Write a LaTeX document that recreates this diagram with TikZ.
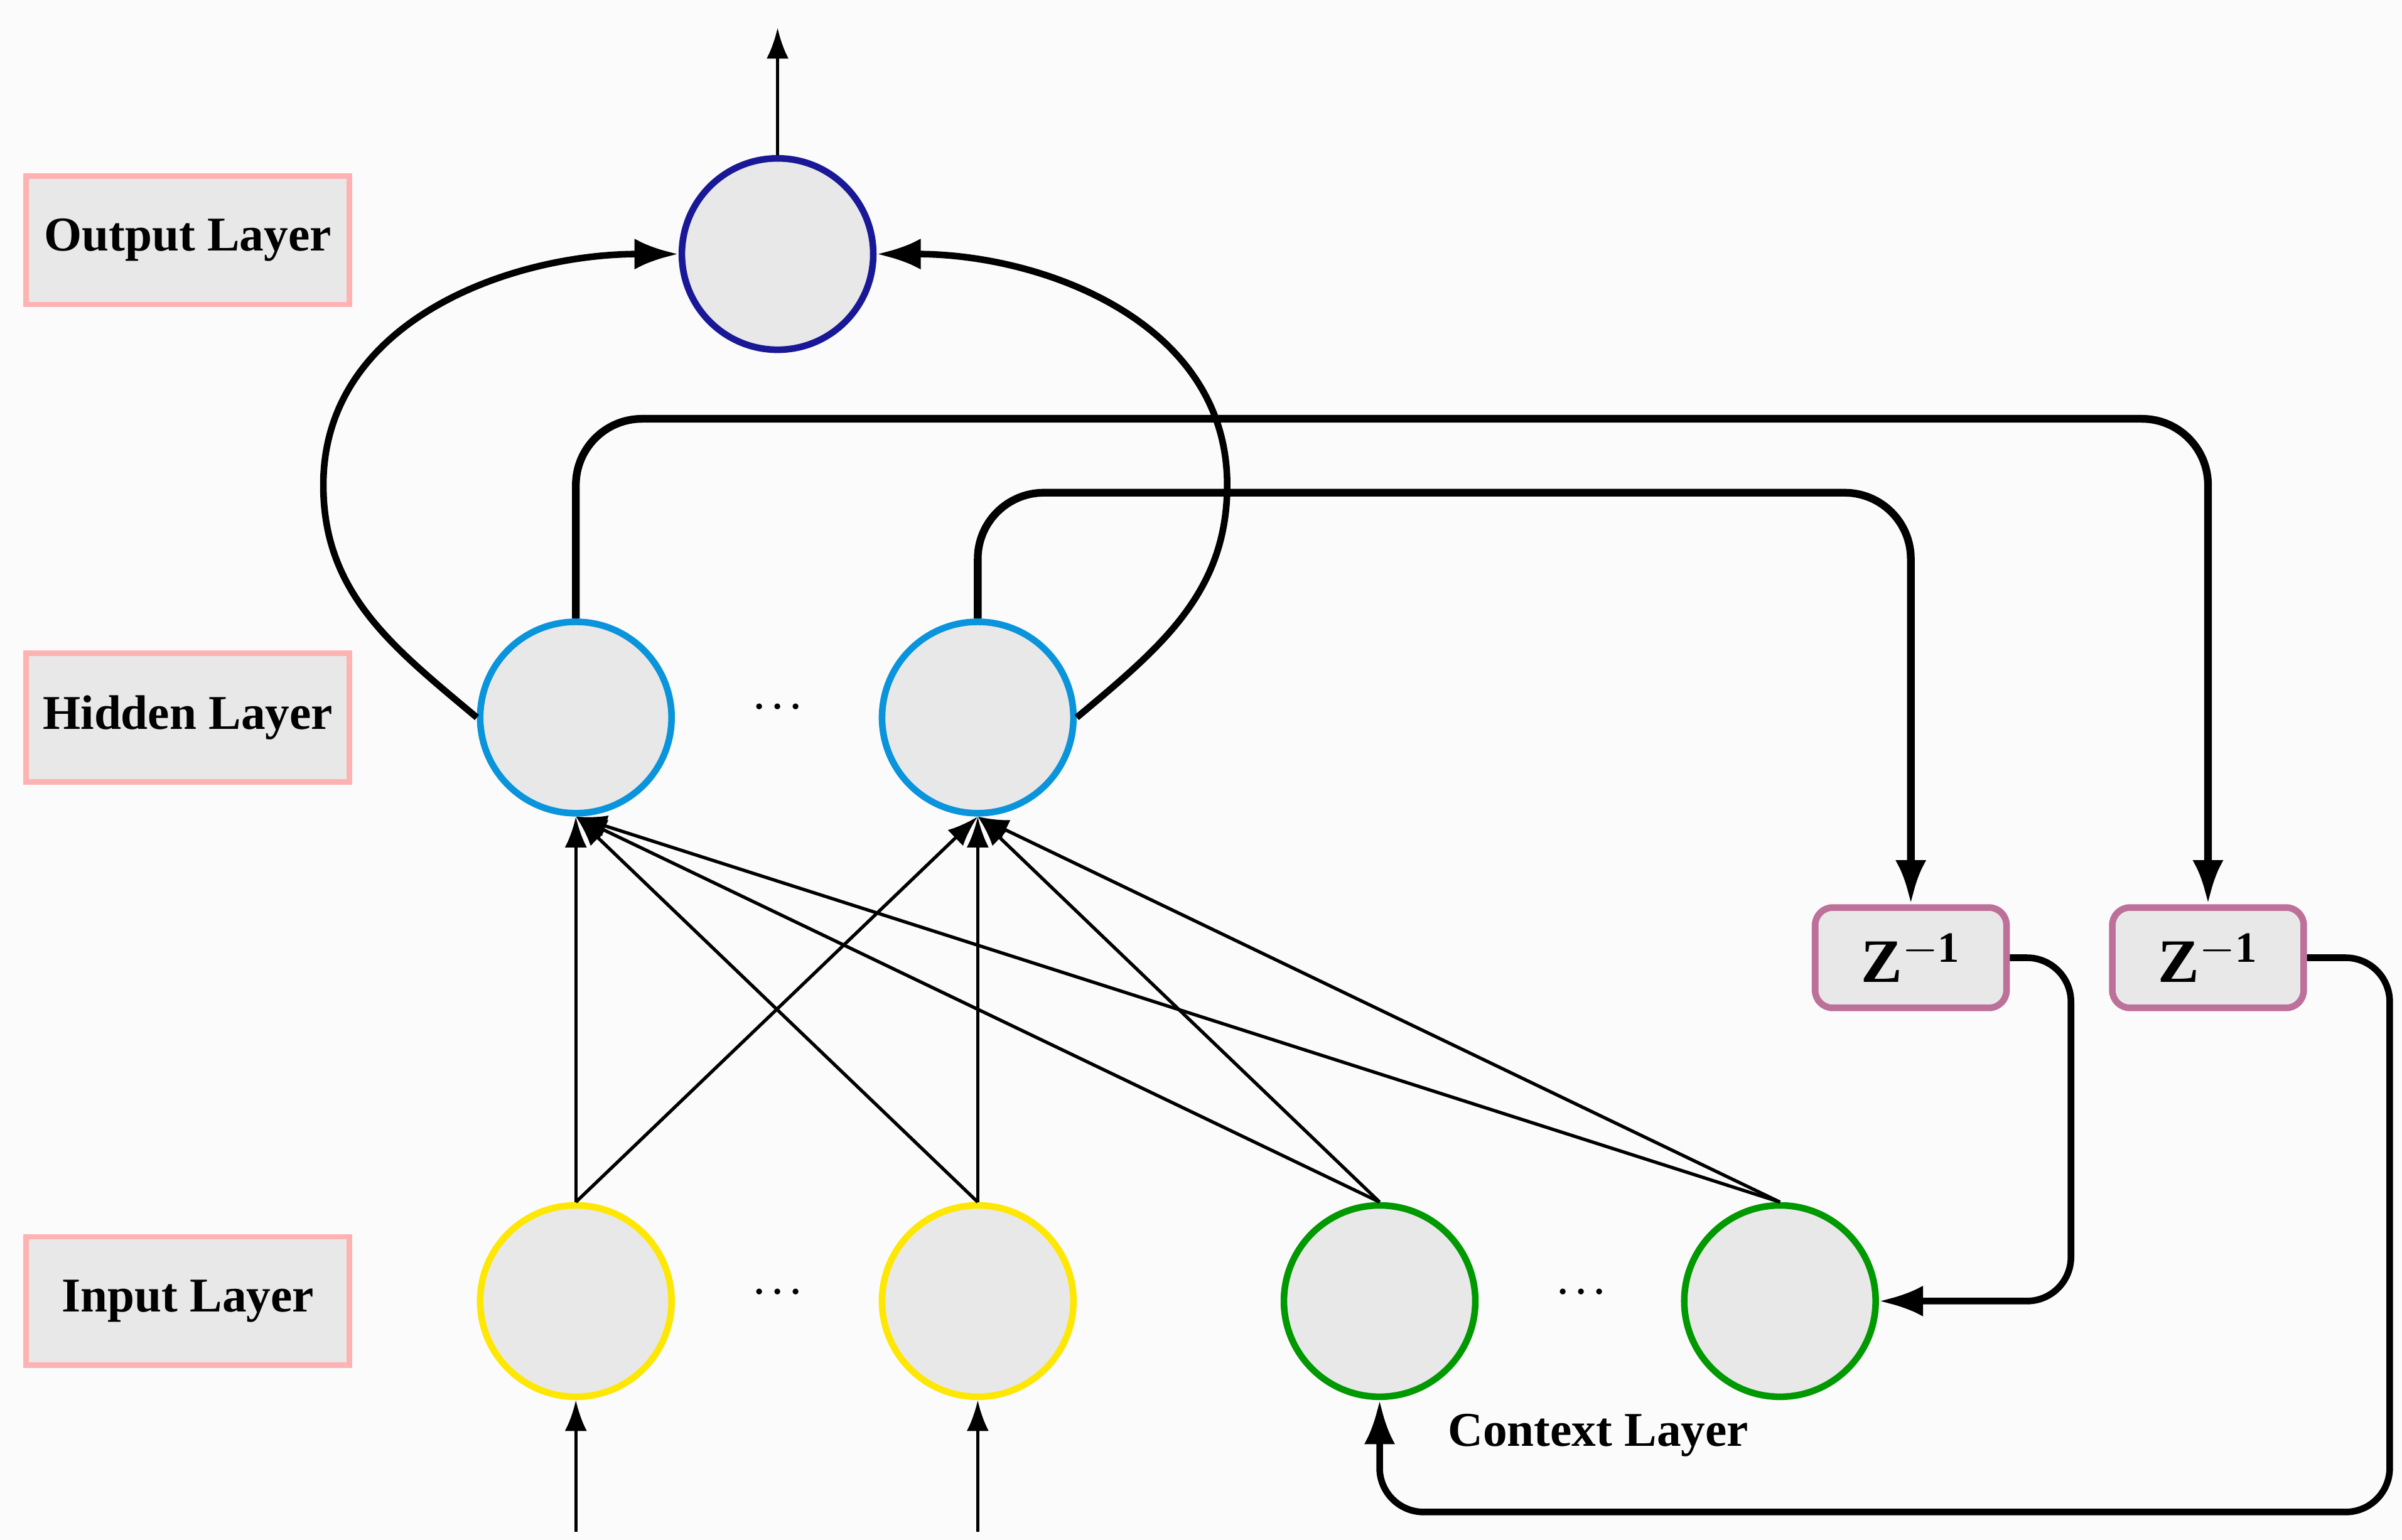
\documentclass[tikz,border=0pt]{standalone}
\usepackage{fontspec}
\setmainfont{Liberation Serif}
\usetikzlibrary{arrows.meta}
\begin{document}
\begin{tikzpicture}[x=0.02453cm,y=-0.02453cm,
  neuron/.style={circle,draw,line width=3pt,fill=gray!18,minimum size=3.05cm,inner sep=0},
  lab/.style={draw=red!30,line width=2.5pt,fill=gray!18,minimum width=5.15cm,minimum height=2.05cm,font=\fontsize{22}{26}\selectfont\bfseries},
  zb/.style={draw=magenta!60!black!70,line width=3pt,fill=gray!18,rounded corners=8pt,minimum width=3.05cm,minimum height=1.6cm,font=\fontsize{28}{32}\selectfont\bfseries},
  thin/.style={-{Latex[length=14pt,width=10pt]},line width=1.5pt},
  thick/.style={-{Latex[length=20pt,width=14pt]},line width=3.5pt,rounded corners=30pt},
  med/.style={-{Latex[length=20pt,width=14pt]},line width=3pt},
  dots/.style={font=\fontsize{40}{40}\selectfont\bfseries}]
\fill[gray!3] (0,0) rectangle (1560,1000);
\useasboundingbox (0,0) rectangle (1560,1000);
\node[lab] (lo) at (122,156) {Output Layer};
\node[lab] (lh) at (122,466) {Hidden Layer};
\node[lab] (li) at (122,845) {Input Layer};
\node[neuron,draw=blue!55!black!90] (o) at (505,165) {};
\node[neuron,draw=cyan!80!blue] (h1) at (374,466) {};
\node[neuron,draw=cyan!80!blue] (h2) at (635,466) {};
\node[neuron,draw=yellow!90!orange] (i1) at (374,845) {};
\node[neuron,draw=yellow!90!orange] (i2) at (635,845) {};
\node[neuron,draw=green!60!black] (c1) at (896,845) {};
\node[neuron,draw=green!60!black] (c2) at (1156,845) {};
\node[dots] (d1) at (505,460) {$\cdot\!\cdot\!\cdot$};
\node[dots] (d2) at (505,840) {$\cdot\!\cdot\!\cdot$};
\node[dots] (d3) at (1027,840) {$\cdot\!\cdot\!\cdot$};
\node[zb] (z1) at (1241,622) {Z$^{\mathbf{-1}}$};
\node[zb] (z2) at (1434,622) {Z$^{\mathbf{-1}}$};
\node[font=\fontsize{22}{26}\selectfont\bfseries] (cl) at (1038,932) {Context Layer};
\coordinate (top) at (505,18);
\coordinate (b1) at (374,995);
\coordinate (b2) at (635,995);
\draw[thin] (o.north) -- (top);
\draw[thin] (b1) -- (i1.south);
\draw[thin] (b2) -- (i2.south);
\foreach \s in {i1,i2,c1,c2}{
  \draw[thin] (\s.north) -- (h1.south);
  \draw[thin] (\s.north) -- (h2.south);}
\draw[med] (h1.west) to[out=140,in=-90] (210,315) to[out=90,in=180] (o.west);
\draw[med] (h2.east) to[out=40,in=-90] (797,315) to[out=90,in=0] (o.east);
\draw[thick] (h1.north) -- (374,272) -- (1434,272) -- (z2.north);
\draw[thick] (h2.north) -- (635,320) -- (1241,320) -- (z1.north);
\draw[med,rounded corners=20pt] (z1.east) -- (1345,622) -- (1345,845) -- (c2.east);
\draw[med,rounded corners=20pt] (z2.east) -- (1552,622) -- (1552,982) -- (896,982) -- (c1.south);
\end{tikzpicture}
\end{document}
